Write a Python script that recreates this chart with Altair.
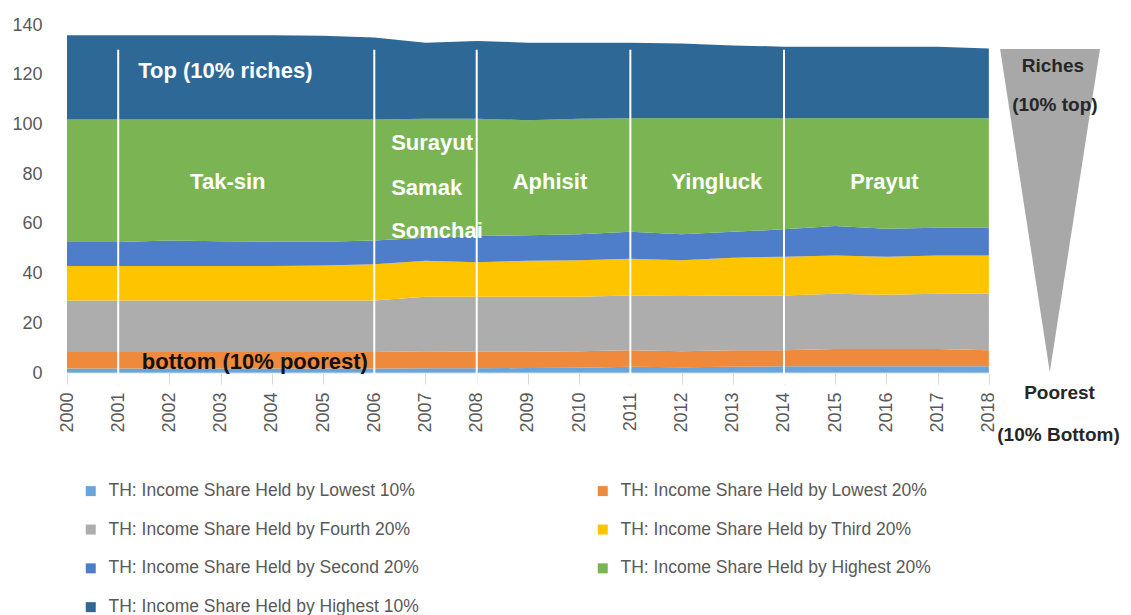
import altair as alt
import pandas as pd

# ---------------- data ----------------
years = list(range(2000, 2019))
series_names = [
    "TH: Income Share Held by Lowest 10%",
    "TH: Income Share Held by Lowest 20%",
    "TH: Income Share Held by Fourth 20%",
    "TH: Income Share Held by Third 20%",
    "TH: Income Share Held by Second 20%",
    "TH: Income Share Held by Highest 20%",
    "TH: Income Share Held by Highest 10%",
]
lowest10 = [1.8, 1.8, 1.8, 1.8, 1.8, 1.8, 1.8, 1.9, 1.9, 2.0, 2.1, 2.5, 2.3, 2.5, 2.7, 2.7, 2.7, 2.7, 2.7]
lowest20 = [6.6, 6.6, 6.6, 6.6, 6.6, 6.6, 6.6, 6.8, 6.6, 6.5, 6.7, 6.7, 6.5, 6.7, 6.5, 7.0, 7.0, 7.0, 6.5]
fourth20 = [20.8, 20.8, 20.8, 20.8, 20.8, 20.8, 20.8, 22.0, 22.2, 22.2, 21.9, 22.0, 22.2, 22.0, 22.0, 22.2, 21.8, 22.2, 22.8]
third20 = [13.8, 13.8, 13.8, 13.8, 13.8, 14.0, 14.5, 14.5, 13.9, 14.5, 14.7, 14.8, 14.4, 15.2, 15.6, 15.4, 15.3, 15.4, 15.3]
second20 = [9.7, 9.7, 10.3, 10.0, 9.8, 9.6, 9.6, 9.2, 10.5, 10.2, 10.4, 10.8, 10.4, 10.4, 11.0, 11.8, 11.2, 11.1, 11.1]
highest20 = [49.3, 49.3, 48.7, 49.0, 49.2, 49.2, 48.7, 47.9, 47.2, 46.3, 46.5, 45.7, 46.7, 45.7, 44.7, 43.4, 44.5, 44.1, 44.1]
highest10 = [33.9, 33.9, 33.9, 33.9, 33.9, 33.7, 33.0, 30.6, 31.3, 31.2, 30.6, 30.4, 30.1, 29.3, 28.8, 28.8, 28.8, 28.7, 28.0]
series_values = [lowest10, lowest20, fourth20, third20, second20, highest20, highest10]
series_colors = ["#68a5dc", "#ef893c", "#adadad", "#ffc400", "#4e7dc9", "#7bb452", "#2e6897"]
# legend is filled column by column: this order gives the reference's row-wise reading
legend_order = [0, 2, 4, 6, 1, 3, 5]

y_ticks = [0, 20, 40, 60, 80, 100, 120, 140]
period_lines = [2001, 2006, 2008, 2011, 2014]

white_left_labels = ["Top (10% riches)", "Surayut", "Samak", "Somchai"]
white_left_x = [2001.39, 2006.33, 2006.33, 2006.33]
white_left_y = [121.6, 92.6, 74.4, 57.1]

white_center_labels = ["Tak-sin", "Aphisit", "Yingluck", "Prayut"]
white_center_x = [2003.14, 2009.43, 2012.69, 2015.96]
white_center_y = [76.8, 76.8, 76.8, 76.8]

bottom_label = ["bottom (10% poorest)"]
bottom_x = [2001.46]
bottom_y = [4.5]

side_labels = ["Riches", "(10% top)", "Poorest", "(10% Bottom)"]
side_x = [2019.25, 2019.29, 2019.38, 2019.36]
side_y = [123.5, 107.8, -7.9, -24.9]

tri_x = [2018.22, 2019.19, 2020.17]
tri_y = [130.3, 0.4, 130.3]
tri_top = [130.3, 130.3, 130.3]

# ---------------- tables ----------------
rows = []
for i, (name, vals) in enumerate(zip(series_names, series_values)):
    for yr, v in zip(years, vals):
        rows.append({"year": yr, "value": v, "series": name, "order": i})
df = pd.DataFrame(rows)

legend_domain = [series_names[i] for i in legend_order]
legend_range = [series_colors[i] for i in legend_order]

FONT = "Liberation Sans"
x_scale = alt.Scale(domain=[2000, 2020.6], nice=False, zero=False)
y_scale = alt.Scale(domain=[0, 140], nice=False)
x_axis = alt.Axis(values=years, labelAngle=270, labelFontSize=18, labelColor="#595959",
                  labelFont=FONT, domain=False, ticks=True, tickColor="#d9d9d9",
                  tickSize=11, labelPadding=8, grid=False, title=None, format="d",
                  labelFlush=False, labelOverlap=False)
y_axis = alt.Axis(values=y_ticks, labelFontSize=18, labelColor="#595959", labelFont=FONT,
                  domain=False, ticks=False, grid=False, title=None, labelPadding=25)


def X(field):
    return alt.X(field, scale=x_scale, axis=x_axis)


def Y(field):
    return alt.Y(field, scale=y_scale, axis=y_axis)


areas = alt.Chart(df).mark_area(interpolate="linear", opacity=1).encode(
    x=X("year:Q"),
    y=alt.Y("value:Q", stack="zero", scale=y_scale, axis=y_axis),
    color=alt.Color("series:N",
                    scale=alt.Scale(domain=legend_domain, range=legend_range),
                    legend=alt.Legend(orient="none", legendX=15, legendY=457, columns=2,
                                      columnPadding=175, rowPadding=19.8, symbolType="square",
                                      symbolSize=100, symbolStrokeWidth=0, symbolOpacity=1,
                                      labelFontSize=17.5, labelColor="#595959", labelFont=FONT,
                                      labelOffset=9, title=None, labelLimit=0, padding=0)),
    order=alt.Order("order:Q", sort="ascending"),
)

axis_line = alt.Chart(pd.DataFrame({"year": [years[0]], "year2": [years[-1]], "value": [0]})).mark_rule(
    color="#d9d9d9", strokeWidth=1
).encode(x=X("year:Q"), x2="year2:Q", y=Y("value:Q"))

vlines = alt.Chart(pd.DataFrame({"year": period_lines, "value": [-4.5] * len(period_lines),
                                 "top": [130] * len(period_lines)})).mark_rule(
    color="white", strokeWidth=2
).encode(x=X("year:Q"), y=Y("value:Q"), y2="top:Q")

triangle = alt.Chart(pd.DataFrame({"year": tri_x, "value": tri_y, "top": tri_top})).mark_area(
    color="#a8a8a8", opacity=1
).encode(x=X("year:Q"), y=Y("value:Q"), y2="top:Q")

t_white_left = alt.Chart(pd.DataFrame({"year": white_left_x, "value": white_left_y,
                                       "label": white_left_labels})).mark_text(
    align="left", baseline="middle", font=FONT, fontSize=22, fontWeight="bold", color="white"
).encode(x=X("year:Q"), y=Y("value:Q"), text="label:N")

t_white_center = alt.Chart(pd.DataFrame({"year": white_center_x, "value": white_center_y,
                                         "label": white_center_labels})).mark_text(
    align="center", baseline="middle", font=FONT, fontSize=22, fontWeight="bold", color="white"
).encode(x=X("year:Q"), y=Y("value:Q"), text="label:N")

t_bottom = alt.Chart(pd.DataFrame({"year": bottom_x, "value": bottom_y,
                                   "label": bottom_label})).mark_text(
    align="left", baseline="middle", font=FONT, fontSize=22, fontWeight="bold", color="#111111"
).encode(x=X("year:Q"), y=Y("value:Q"), text="label:N")

t_side = alt.Chart(pd.DataFrame({"year": side_x, "value": side_y,
                                 "label": side_labels})).mark_text(
    align="center", baseline="middle", font=FONT, fontSize=19, fontWeight="bold", color="#262626"
).encode(x=X("year:Q"), y=Y("value:Q"), text="label:N")

chart = alt.layer(
    areas, axis_line, vlines, triangle, t_white_left, t_white_center, t_bottom, t_side
).properties(
    width=1055, height=348,
    padding={"left": 59, "top": 17, "right": 0, "bottom": 250},
    autosize=alt.AutoSizeParams(type="none"),
    background="white",
).configure_view(stroke=None)

chart.save("out.html", embed_options={"renderer": "svg", "actions": False})
